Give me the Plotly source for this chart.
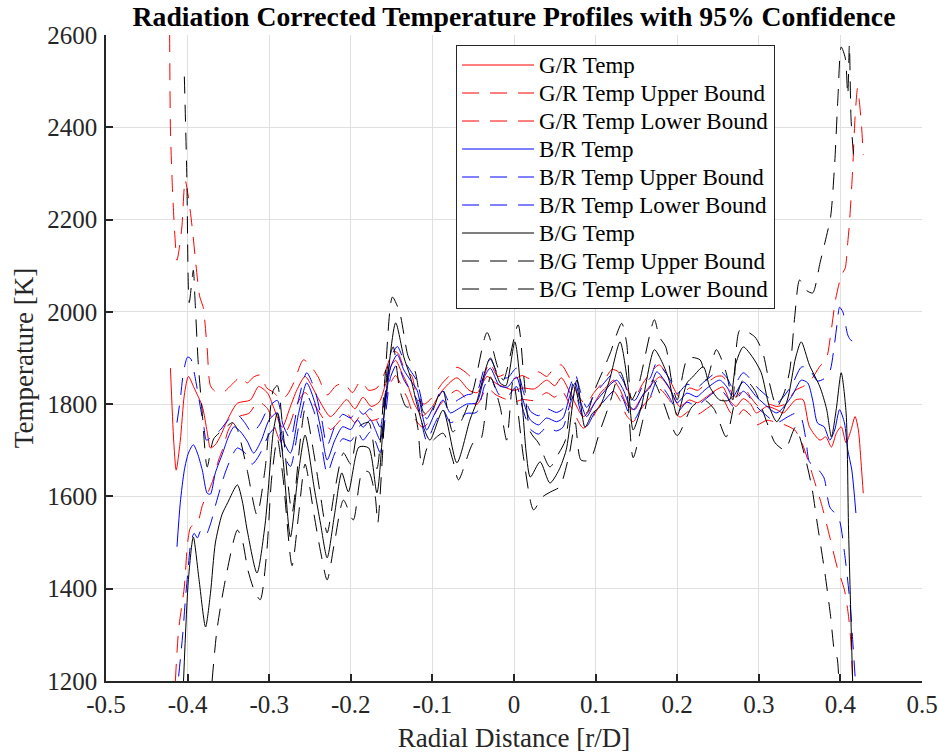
import plotly.graph_objects as go

# Radial positions (r/D) paired with temperature (K) for each profile

gr_temp = [(-0.421, 1878), (-0.417, 1720), (-0.414, 1657), (-0.409, 1720), (-0.404, 1820), (-0.399, 1860),
           (-0.392, 1835), (-0.382, 1795), (-0.376, 1740), (-0.372, 1705), (-0.366, 1712), (-0.360, 1730),
           (-0.350, 1770), (-0.339, 1802), (-0.323, 1809), (-0.313, 1838), (-0.302, 1824), (-0.295, 1795),
           (-0.284, 1750), (-0.275, 1790), (-0.266, 1831), (-0.256, 1860), (-0.248, 1840), (-0.241, 1816),
           (-0.225, 1773), (-0.213, 1795), (-0.205, 1810), (-0.195, 1790), (-0.185, 1815), (-0.175, 1795),
           (-0.165, 1805), (-0.158, 1840), (-0.150, 1885), (-0.145, 1895), (-0.138, 1870), (-0.130, 1840),
           (-0.122, 1800), (-0.112, 1775), (-0.100, 1795), (-0.090, 1825), (-0.070, 1857), (-0.055, 1830),
           (-0.045, 1825), (-0.033, 1860), (-0.022, 1845), (-0.012, 1837), (0.000, 1830), (0.011, 1835),
           (0.025, 1833), (0.040, 1852), (0.050, 1840), (0.058, 1857), (0.071, 1816), (0.085, 1773),
           (0.096, 1795), (0.106, 1824), (0.116, 1842), (0.122, 1852), (0.130, 1831), (0.138, 1800),
           (0.146, 1788), (0.158, 1820), (0.170, 1846), (0.179, 1859), (0.190, 1835), (0.203, 1795),
           (0.215, 1809), (0.225, 1803), (0.236, 1816), (0.248, 1831), (0.256, 1837), (0.264, 1809),
           (0.272, 1795), (0.281, 1812), (0.290, 1800), (0.297, 1781), (0.310, 1795), (0.322, 1788),
           (0.330, 1781), (0.345, 1809), (0.354, 1810), (0.362, 1751), (0.375, 1722), (0.382, 1729),
           (0.389, 1707), (0.395, 1737), (0.401, 1751), (0.407, 1716), (0.413, 1744), (0.418, 1773),
           (0.422, 1744), (0.426, 1657), (0.428, 1607)]

gr_upper = [(-0.422, 2600), (-0.421, 2394), (-0.419, 2286), (-0.416, 2177), (-0.413, 2112), (-0.410, 2140),
            (-0.407, 2184), (-0.403, 2286), (-0.399, 2249), (-0.394, 2177), (-0.390, 2106), (-0.385, 2032),
            (-0.381, 2011), (-0.376, 1920), (-0.372, 1840), (-0.365, 1826), (-0.356, 1826), (-0.346, 1842),
            (-0.335, 1859), (-0.327, 1846), (-0.319, 1859), (-0.311, 1863), (-0.303, 1835), (-0.295, 1826),
            (-0.285, 1810), (-0.278, 1820), (-0.270, 1846), (-0.258, 1896), (-0.248, 1880), (-0.240, 1859),
            (-0.229, 1820), (-0.218, 1840), (-0.208, 1845), (-0.198, 1825), (-0.188, 1850), (-0.178, 1830),
            (-0.168, 1835), (-0.158, 1870), (-0.148, 1915), (-0.142, 1910), (-0.135, 1880), (-0.125, 1860),
            (-0.118, 1810), (-0.110, 1800), (-0.100, 1815), (-0.088, 1845), (-0.080, 1860), (-0.070, 1880),
            (-0.060, 1870), (-0.050, 1855), (-0.040, 1850), (-0.030, 1890), (-0.020, 1860), (-0.010, 1865),
            (0.000, 1855), (0.010, 1862), (0.020, 1855), (0.030, 1870), (0.040, 1860), (0.050, 1880),
            (0.058, 1885), (0.070, 1850), (0.080, 1815), (0.088, 1800), (0.098, 1825), (0.110, 1850),
            (0.120, 1875), (0.128, 1870), (0.138, 1835), (0.146, 1810), (0.158, 1845), (0.168, 1870),
            (0.178, 1885), (0.190, 1855), (0.203, 1815), (0.215, 1835), (0.225, 1830), (0.236, 1845),
            (0.248, 1860), (0.256, 1860), (0.265, 1830), (0.272, 1815), (0.282, 1835), (0.290, 1815),
            (0.300, 1795), (0.312, 1800), (0.322, 1795), (0.332, 1800), (0.345, 1830), (0.356, 1840),
            (0.365, 1855), (0.374, 1880), (0.383, 1900), (0.388, 1950), (0.394, 2026), (0.399, 2065),
            (0.403, 2085), (0.406, 2095), (0.409, 2150), (0.411, 2190), (0.415, 2307), (0.418, 2422),
            (0.421, 2485), (0.423, 2460), (0.426, 2400), (0.428, 2340)]

gr_lower = [(-0.415, 1200), (-0.411, 1311), (-0.404, 1404), (-0.400, 1499), (-0.396, 1534), (-0.388, 1542),
            (-0.382, 1580), (-0.370, 1630), (-0.362, 1679), (-0.356, 1707), (-0.350, 1744), (-0.339, 1772),
            (-0.325, 1780), (-0.313, 1805), (-0.302, 1790), (-0.295, 1760), (-0.286, 1720), (-0.275, 1755),
            (-0.266, 1800), (-0.256, 1825), (-0.245, 1800), (-0.236, 1775), (-0.225, 1745), (-0.213, 1765),
            (-0.205, 1780), (-0.195, 1760), (-0.185, 1785), (-0.175, 1765), (-0.165, 1770), (-0.158, 1810),
            (-0.150, 1850), (-0.145, 1862), (-0.138, 1840), (-0.130, 1810), (-0.122, 1770), (-0.112, 1750),
            (-0.100, 1770), (-0.090, 1800), (-0.070, 1830), (-0.055, 1805), (-0.045, 1800), (-0.033, 1835),
            (-0.022, 1820), (-0.012, 1812), (0.000, 1805), (0.011, 1810), (0.025, 1808), (0.040, 1825),
            (0.050, 1815), (0.058, 1830), (0.071, 1790), (0.085, 1748), (0.096, 1770), (0.106, 1800),
            (0.116, 1818), (0.122, 1828), (0.130, 1808), (0.138, 1775), (0.146, 1762), (0.158, 1795),
            (0.170, 1820), (0.179, 1832), (0.190, 1810), (0.203, 1772), (0.215, 1785), (0.225, 1778),
            (0.236, 1790), (0.248, 1805), (0.256, 1810), (0.264, 1785), (0.272, 1770), (0.281, 1788),
            (0.290, 1775), (0.297, 1755), (0.310, 1765), (0.322, 1760), (0.332, 1755), (0.344, 1744),
            (0.352, 1720), (0.360, 1680), (0.367, 1640), (0.377, 1582), (0.387, 1512), (0.396, 1447),
            (0.405, 1397), (0.410, 1340), (0.413, 1280), (0.415, 1200)]

br_temp = [(-0.413, 1491), (-0.409, 1586), (-0.404, 1657), (-0.399, 1694), (-0.393, 1712), (-0.388, 1694),
           (-0.382, 1657), (-0.376, 1607), (-0.372, 1605), (-0.366, 1651), (-0.357, 1694), (-0.350, 1729),
           (-0.343, 1751), (-0.335, 1740), (-0.327, 1720), (-0.319, 1694), (-0.310, 1720), (-0.300, 1766),
           (-0.290, 1781), (-0.283, 1722), (-0.274, 1694), (-0.264, 1780), (-0.254, 1846), (-0.244, 1803),
           (-0.236, 1740), (-0.229, 1679), (-0.220, 1720), (-0.210, 1751), (-0.200, 1745), (-0.192, 1766),
           (-0.185, 1750), (-0.176, 1766), (-0.170, 1745), (-0.164, 1722), (-0.158, 1794), (-0.151, 1881),
           (-0.143, 1907), (-0.135, 1874), (-0.127, 1852), (-0.119, 1831), (-0.111, 1766), (-0.107, 1744),
           (-0.097, 1780), (-0.087, 1809), (-0.078, 1781), (-0.068, 1790), (-0.058, 1800), (-0.046, 1803),
           (-0.036, 1860), (-0.029, 1878), (-0.018, 1840), (-0.008, 1837), (0.003, 1859), (0.011, 1809),
           (0.020, 1766), (0.030, 1755), (0.040, 1770), (0.052, 1762), (0.060, 1770), (0.068, 1816),
           (0.075, 1846), (0.081, 1809), (0.089, 1773), (0.099, 1803), (0.109, 1824), (0.120, 1846),
           (0.126, 1852), (0.134, 1831), (0.142, 1795), (0.148, 1788), (0.158, 1820), (0.167, 1837),
           (0.175, 1870), (0.185, 1850), (0.192, 1831), (0.200, 1803), (0.212, 1824), (0.224, 1816),
           (0.234, 1831), (0.252, 1852), (0.261, 1837), (0.268, 1816), (0.281, 1848), (0.297, 1816),
           (0.305, 1803), (0.322, 1781), (0.340, 1816), (0.352, 1852), (0.360, 1846), (0.366, 1809),
           (0.372, 1759), (0.380, 1751), (0.387, 1722), (0.393, 1744), (0.399, 1788), (0.405, 1759),
           (0.409, 1701), (0.414, 1657), (0.419, 1564)]

br_upper = [(-0.413, 1760), (-0.409, 1810), (-0.405, 1870), (-0.400, 1902), (-0.396, 1898), (-0.391, 1860),
            (-0.385, 1800), (-0.380, 1750), (-0.377, 1722), (-0.370, 1730), (-0.360, 1744), (-0.350, 1766),
            (-0.339, 1777), (-0.330, 1760), (-0.321, 1738), (-0.312, 1755), (-0.300, 1795), (-0.290, 1808),
            (-0.283, 1755), (-0.274, 1725), (-0.264, 1810), (-0.254, 1868), (-0.244, 1830), (-0.236, 1770),
            (-0.229, 1710), (-0.220, 1750), (-0.210, 1778), (-0.200, 1770), (-0.192, 1790), (-0.185, 1778),
            (-0.176, 1790), (-0.170, 1772), (-0.164, 1750), (-0.158, 1820), (-0.151, 1900), (-0.143, 1925),
            (-0.135, 1895), (-0.127, 1873), (-0.119, 1850), (-0.111, 1790), (-0.107, 1768), (-0.097, 1800),
            (-0.087, 1828), (-0.078, 1800), (-0.068, 1810), (-0.058, 1820), (-0.046, 1825), (-0.036, 1880),
            (-0.029, 1897), (-0.018, 1860), (-0.008, 1857), (0.003, 1878), (0.011, 1830), (0.020, 1785),
            (0.030, 1775), (0.040, 1790), (0.052, 1782), (0.060, 1790), (0.068, 1835), (0.075, 1865),
            (0.081, 1830), (0.089, 1793), (0.099, 1822), (0.109, 1843), (0.120, 1865), (0.126, 1870),
            (0.134, 1850), (0.142, 1815), (0.148, 1808), (0.158, 1840), (0.167, 1857), (0.175, 1890),
            (0.185, 1870), (0.192, 1850), (0.200, 1823), (0.212, 1843), (0.224, 1836), (0.234, 1850),
            (0.252, 1872), (0.261, 1857), (0.268, 1836), (0.281, 1868), (0.297, 1838), (0.305, 1825),
            (0.322, 1803), (0.340, 1840), (0.352, 1880), (0.360, 1880), (0.366, 1865), (0.372, 1850),
            (0.380, 1855), (0.387, 1870), (0.392, 1920), (0.396, 1975), (0.399, 2010), (0.403, 2000),
            (0.406, 1975), (0.409, 1950), (0.412, 1940), (0.416, 1935)]

br_lower = [(-0.411, 1210), (-0.406, 1300), (-0.403, 1370), (-0.400, 1430), (-0.396, 1500), (-0.392, 1520),
            (-0.388, 1510), (-0.384, 1525), (-0.378, 1515), (-0.372, 1540), (-0.365, 1586), (-0.354, 1651),
            (-0.345, 1690), (-0.339, 1705), (-0.330, 1695), (-0.321, 1670), (-0.312, 1690), (-0.300, 1735),
            (-0.290, 1752), (-0.283, 1695), (-0.274, 1665), (-0.264, 1750), (-0.254, 1820), (-0.244, 1778),
            (-0.236, 1712), (-0.229, 1650), (-0.220, 1692), (-0.210, 1725), (-0.200, 1720), (-0.192, 1740),
            (-0.185, 1722), (-0.176, 1740), (-0.170, 1720), (-0.164, 1695), (-0.158, 1768), (-0.151, 1860),
            (-0.143, 1887), (-0.135, 1853), (-0.127, 1830), (-0.119, 1810), (-0.111, 1742), (-0.107, 1720),
            (-0.097, 1758), (-0.087, 1788), (-0.078, 1760), (-0.068, 1768), (-0.058, 1780), (-0.046, 1782),
            (-0.036, 1840), (-0.029, 1858), (-0.018, 1820), (-0.008, 1817), (0.003, 1838), (0.011, 1788),
            (0.020, 1746), (0.030, 1735), (0.040, 1750), (0.052, 1742), (0.060, 1750), (0.068, 1796),
            (0.075, 1826), (0.081, 1788), (0.089, 1752), (0.099, 1783), (0.109, 1804), (0.120, 1826),
            (0.126, 1832), (0.134, 1810), (0.142, 1775), (0.148, 1768), (0.158, 1800), (0.167, 1816),
            (0.175, 1850), (0.185, 1830), (0.192, 1810), (0.200, 1783), (0.212, 1804), (0.224, 1796),
            (0.234, 1810), (0.252, 1832), (0.261, 1816), (0.268, 1796), (0.281, 1828), (0.297, 1795),
            (0.305, 1782), (0.322, 1760), (0.335, 1772), (0.345, 1780), (0.352, 1770), (0.358, 1720),
            (0.362, 1675), (0.372, 1660), (0.380, 1640), (0.387, 1577), (0.398, 1553), (0.405, 1478),
            (0.412, 1365), (0.415, 1290), (0.418, 1210)]

bg_temp = [(-0.405, 1200), (-0.399, 1420), (-0.393, 1512), (-0.386, 1420), (-0.378, 1317), (-0.372, 1390),
           (-0.366, 1499), (-0.358, 1560), (-0.351, 1586), (-0.339, 1625), (-0.333, 1590), (-0.327, 1527),
           (-0.315, 1434), (-0.305, 1540), (-0.295, 1740), (-0.290, 1781), (-0.283, 1680), (-0.274, 1512),
           (-0.265, 1640), (-0.256, 1733), (-0.245, 1620), (-0.237, 1540), (-0.229, 1467), (-0.220, 1560),
           (-0.211, 1651), (-0.203, 1610), (-0.190, 1707), (-0.178, 1705), (-0.168, 1608), (-0.158, 1803),
           (-0.145, 1976), (-0.135, 1902), (-0.127, 1859), (-0.119, 1800), (-0.111, 1750), (-0.103, 1722),
           (-0.087, 1787), (-0.070, 1673), (-0.054, 1766), (-0.046, 1803), (-0.029, 1900), (-0.017, 1846),
           (-0.010, 1840), (0.001, 1935), (0.010, 1800), (0.015, 1694), (0.020, 1642), (0.032, 1675),
           (0.044, 1629), (0.055, 1657), (0.064, 1701), (0.077, 1852), (0.087, 1750), (0.096, 1780),
           (0.105, 1794), (0.117, 1852), (0.130, 1935), (0.140, 1837), (0.146, 1744), (0.156, 1794),
           (0.172, 1918), (0.182, 1889), (0.190, 1852), (0.200, 1775), (0.212, 1846), (0.219, 1859),
           (0.232, 1881), (0.240, 1837), (0.252, 1809), (0.264, 1809), (0.272, 1889), (0.281, 1924),
           (0.293, 1900), (0.303, 1868), (0.313, 1794), (0.322, 1762), (0.335, 1809), (0.345, 1900),
           (0.352, 1935), (0.362, 1885), (0.375, 1837), (0.383, 1790), (0.389, 1729), (0.395, 1790),
           (0.401, 1868), (0.407, 1781), (0.410, 1527), (0.415, 1200)]

bg_upper = [(-0.404, 2510), (-0.401, 2300), (-0.398, 2020), (-0.393, 2090), (-0.391, 2030), (-0.387, 1890),
            (-0.382, 1780), (-0.376, 1664), (-0.368, 1725), (-0.356, 1745), (-0.345, 1760), (-0.339, 1745),
            (-0.327, 1657), (-0.315, 1560), (-0.305, 1660), (-0.295, 1830), (-0.290, 1840), (-0.283, 1740),
            (-0.272, 1565), (-0.262, 1720), (-0.256, 1790), (-0.245, 1690), (-0.237, 1600), (-0.229, 1521),
            (-0.220, 1610), (-0.209, 1694), (-0.200, 1670), (-0.190, 1751), (-0.178, 1760), (-0.168, 1660),
            (-0.158, 1860), (-0.149, 2032), (-0.140, 1998), (-0.130, 1905), (-0.121, 1870), (-0.111, 1783),
            (-0.103, 1775), (-0.088, 1835), (-0.075, 1740), (-0.064, 1766), (-0.050, 1831), (-0.033, 1955),
            (-0.020, 1880), (-0.013, 1852), (0.005, 1972), (0.012, 1860), (0.020, 1740), (0.030, 1716),
            (0.044, 1664), (0.055, 1694), (0.063, 1722), (0.073, 1852), (0.080, 1803), (0.089, 1781),
            (0.099, 1831), (0.111, 1881), (0.118, 1911), (0.132, 1975), (0.138, 1933), (0.144, 1809),
            (0.152, 1837), (0.172, 1983), (0.178, 1946), (0.186, 1924), (0.193, 1852), (0.200, 1809),
            (0.213, 1900), (0.228, 1896), (0.236, 1852), (0.248, 1918), (0.260, 1868), (0.268, 1809),
            (0.277, 1961), (0.295, 1946), (0.305, 1911), (0.313, 1846), (0.322, 1794), (0.331, 1824),
            (0.338, 1874), (0.344, 1989), (0.350, 2069), (0.358, 2047), (0.366, 2041), (0.375, 2106),
            (0.381, 2150), (0.388, 2206), (0.393, 2322), (0.397, 2465), (0.401, 2574), (0.406, 2550),
            (0.409, 2470), (0.411, 2580), (0.413, 2420), (0.416, 2340)]

bg_lower = [(-0.370, 1200), (-0.364, 1311), (-0.353, 1426), (-0.339, 1527), (-0.333, 1505), (-0.326, 1440),
            (-0.318, 1395), (-0.311, 1376), (-0.303, 1480), (-0.297, 1640), (-0.290, 1725), (-0.283, 1640),
            (-0.272, 1450), (-0.264, 1560), (-0.256, 1670), (-0.245, 1560), (-0.237, 1480), (-0.229, 1419),
            (-0.220, 1500), (-0.209, 1592), (-0.197, 1549), (-0.186, 1653), (-0.178, 1653), (-0.170, 1599),
            (-0.167, 1542), (-0.161, 1694), (-0.155, 1881), (-0.148, 1924), (-0.140, 1831), (-0.132, 1794),
            (-0.124, 1794), (-0.118, 1750), (-0.113, 1664), (-0.106, 1707), (-0.087, 1737), (-0.075, 1679),
            (-0.068, 1636), (-0.050, 1716), (-0.041, 1722), (-0.029, 1859), (-0.017, 1794), (-0.009, 1722),
            (-0.001, 1852), (0.012, 1680), (0.024, 1571), (0.035, 1599), (0.045, 1610), (0.056, 1621),
            (0.068, 1694), (0.075, 1760), (0.082, 1679), (0.093, 1679), (0.105, 1740), (0.117, 1800),
            (0.130, 1870), (0.138, 1830), (0.146, 1684), (0.158, 1766), (0.170, 1852), (0.182, 1809),
            (0.200, 1732), (0.218, 1794), (0.232, 1810), (0.245, 1790), (0.260, 1729), (0.270, 1800),
            (0.282, 1855), (0.295, 1830), (0.310, 1760), (0.320, 1716), (0.332, 1701), (0.345, 1750),
            (0.356, 1690), (0.365, 1620), (0.371, 1549), (0.381, 1434), (0.388, 1340), (0.393, 1261),
            (0.396, 1250), (0.398, 1200)]

x_ticks = [-0.5, -0.4, -0.3, -0.2, -0.1, 0.0, 0.1, 0.2, 0.3, 0.4, 0.5]
x_tick_labels = ["-0.5", "-0.4", "-0.3", "-0.2", "-0.1", "0", "0.1", "0.2", "0.3", "0.4", "0.5"]
y_ticks = [1200, 1400, 1600, 1800, 2000, 2200, 2400, 2600]

RED, BLUE, BLACK = "#ff0000", "#0000ff", "#000000"
DASH = "17px,11px"

series = [
    ("G/R Temp", gr_temp, RED, "solid"),
    ("G/R Temp Upper Bound", gr_upper, RED, DASH),
    ("G/R Temp Lower Bound", gr_lower, RED, DASH),
    ("B/R Temp", br_temp, BLUE, "solid"),
    ("B/R Temp Upper Bound", br_upper, BLUE, DASH),
    ("B/R Temp Lower Bound", br_lower, BLUE, DASH),
    ("B/G Temp", bg_temp, BLACK, "solid"),
    ("B/G Temp Upper Bound", bg_upper, BLACK, DASH),
    ("B/G Temp Lower Bound", bg_lower, BLACK, DASH),
]

LEGEND_TEXT_PX = 23
# row pitch of the legend is 1.3 * size + 3 px; this size gives a whole 28 px
LEGEND_ROW_FONT = 25 / 1.3

fig = go.Figure()
for name, pts, color, dash in series:
    xs = [p[0] for p in pts]
    ys = [p[1] for p in pts]
    fig.add_trace(go.Scatter(
        x=xs, y=ys, mode="lines",
        name=f'<span style="font-size:{LEGEND_TEXT_PX}px">{name}</span>',
        line=dict(color=color, width=1, dash=dash, shape="spline", smoothing=0.7),
    ))

FONT = "Liberation Serif, Times New Roman, serif"
AXIS_COLOR = "#262626"
GRID_COLOR = "#e0e0e0"

fig.update_layout(
    width=939, height=754,
    margin=dict(l=106, r=17, t=35, b=73),
    paper_bgcolor="white", plot_bgcolor="white",
    font=dict(family=FONT, color=AXIS_COLOR),
    title=dict(
        text="<b>Radiation Corrected Temperature Profiles with 95% Confidence</b>",
        x=0.5, xref="paper", xanchor="center",
        y=1 - 16 / 754, yref="container", yanchor="middle",
        font=dict(family=FONT, size=27.7, color="black"),
    ),
    legend=dict(
        x=0.429, y=0.9845, xanchor="left", yanchor="top",
        bgcolor="white", bordercolor=AXIS_COLOR, borderwidth=1,
        font=dict(family=FONT, size=LEGEND_ROW_FONT, color="black"),
        itemwidth=72,
    ),
    xaxis=dict(
        range=[-0.5, 0.5], tickmode="array", tickvals=x_ticks, ticktext=x_tick_labels,
        showgrid=True, gridcolor=GRID_COLOR, gridwidth=1, zeroline=False,
        showline=True, linecolor=AXIS_COLOR, linewidth=1.5,
        ticks="inside", ticklen=7, tickwidth=1.5, tickcolor=AXIS_COLOR,
        tickfont=dict(family=FONT, size=25, color=AXIS_COLOR),
        automargin=False,
        title=dict(text="Radial Distance [r/D]", font=dict(family=FONT, size=27, color=AXIS_COLOR), standoff=11),
    ),
    yaxis=dict(
        range=[1200, 2600], tickmode="array", tickvals=y_ticks,
        showgrid=True, gridcolor=GRID_COLOR, gridwidth=1, zeroline=False,
        showline=True, linecolor=AXIS_COLOR, linewidth=1.5,
        ticks="inside", ticklen=7, tickwidth=1.5, tickcolor=AXIS_COLOR,
        ticklabelstandoff=2,
        tickfont=dict(family=FONT, size=25, color=AXIS_COLOR),
        automargin=False,
        title=dict(text="Temperature [K]", font=dict(family=FONT, size=27, color=AXIS_COLOR), standoff=6),
    ),
)

fig.write_html("out.html")
